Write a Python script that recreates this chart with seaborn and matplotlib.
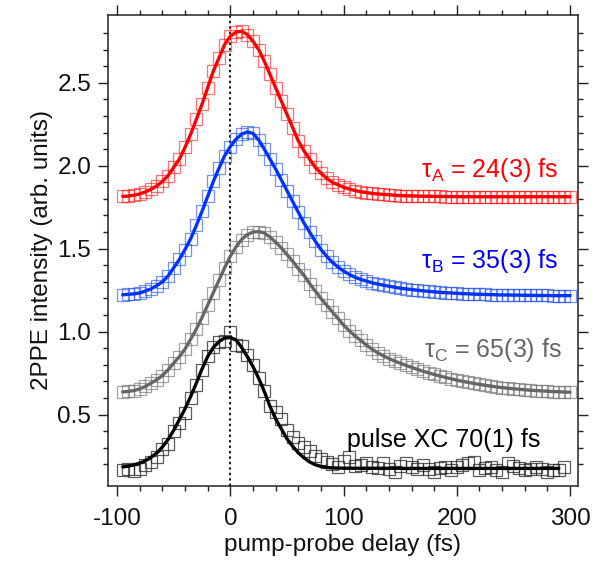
import numpy as np
import pandas as pd
import matplotlib
matplotlib.use("Agg")
import matplotlib.pyplot as plt
import seaborn as sns
from matplotlib.ticker import MultipleLocator, FixedLocator, FormatStrFormatter

# ---------------- data ----------------
delay_A = np.arange(-95, 301, 5)      # red / blue / gray series
red_A = [1.815, 1.817, 1.822, 1.830, 1.842, 1.858, 1.878, 1.905, 1.940, 1.990,
         2.040, 2.110, 2.190, 2.280, 2.370, 2.470, 2.570, 2.650, 2.730, 2.780,
         2.805, 2.810, 2.790, 2.750, 2.700, 2.630, 2.550, 2.470, 2.390, 2.310,
         2.230, 2.150, 2.090, 2.040, 1.990, 1.955, 1.925, 1.900, 1.885, 1.870,
         1.860, 1.850, 1.843, 1.838, 1.833, 1.830, 1.827, 1.825, 1.822, 1.820,
         1.819, 1.818, 1.817, 1.816, 1.816, 1.815, 1.815, 1.814, 1.814, 1.814,
         1.813, 1.813, 1.813, 1.813, 1.813, 1.813, 1.813, 1.813, 1.813, 1.813,
         1.813, 1.813, 1.813, 1.813, 1.813, 1.813, 1.813, 1.813, 1.813, 1.813]
blue_B = [1.222, 1.225, 1.228, 1.233, 1.245, 1.258, 1.277, 1.300, 1.335, 1.385,
          1.435, 1.495, 1.560, 1.640, 1.725, 1.815, 1.905, 1.985, 2.060, 2.115,
          2.160, 2.190, 2.203, 2.195, 2.155, 2.100, 2.040, 1.980, 1.915, 1.850,
          1.785, 1.720, 1.655, 1.600, 1.545, 1.495, 1.455, 1.418, 1.390, 1.365,
          1.345, 1.328, 1.315, 1.305, 1.295, 1.287, 1.280, 1.274, 1.268, 1.262,
          1.258, 1.254, 1.250, 1.246, 1.243, 1.240, 1.237, 1.235, 1.233, 1.231,
          1.229, 1.228, 1.226, 1.225, 1.224, 1.223, 1.222, 1.221, 1.221, 1.220,
          1.220, 1.219, 1.219, 1.218, 1.218, 1.218, 1.217, 1.217, 1.217, 1.217]
gray_C = [0.637, 0.640, 0.645, 0.655, 0.670, 0.690, 0.710, 0.735, 0.770, 0.810,
          0.850, 0.895, 0.955, 1.015, 1.085, 1.160, 1.235, 1.310, 1.385, 1.455,
          1.510, 1.555, 1.585, 1.600, 1.603, 1.595, 1.570, 1.540, 1.505, 1.465,
          1.425, 1.380, 1.340, 1.290, 1.245, 1.200, 1.160, 1.120, 1.080, 1.040,
          1.005, 0.975, 0.948, 0.920, 0.895, 0.873, 0.855, 0.838, 0.823, 0.810,
          0.797, 0.785, 0.773, 0.762, 0.752, 0.742, 0.733, 0.724, 0.716, 0.708,
          0.701, 0.694, 0.688, 0.682, 0.677, 0.672, 0.667, 0.663, 0.659, 0.656,
          0.653, 0.650, 0.647, 0.645, 0.643, 0.641, 0.639, 0.638, 0.636, 0.635]

delay_xc = np.arange(-95, 296, 5)     # pulse cross-correlation data
xc_data = [0.165, 0.172, 0.158, 0.175, 0.195, 0.217, 0.247, 0.295, 0.325, 0.400,
           0.450, 0.510, 0.600, 0.680, 0.770, 0.855, 0.910, 0.940, 0.945, 1.000,
           0.920, 0.915, 0.860, 0.800, 0.720, 0.640, 0.555, 0.515, 0.475, 0.410,
           0.365, 0.330, 0.305, 0.280, 0.250, 0.230, 0.215, 0.205, 0.187, 0.220,
           0.245, 0.190, 0.195, 0.207, 0.185, 0.177, 0.207, 0.175, 0.157, 0.190,
           0.207, 0.187, 0.170, 0.197, 0.175, 0.157, 0.180, 0.187, 0.167, 0.185,
           0.197, 0.210, 0.215, 0.167, 0.180, 0.187, 0.165, 0.157, 0.207, 0.190,
           0.177, 0.167, 0.175, 0.187, 0.170, 0.157, 0.165, 0.167, 0.187]

delay_fit = np.arange(-95, 291, 5)    # pulse cross-correlation fit
xc_fit = [0.185, 0.190, 0.198, 0.207, 0.222, 0.243, 0.268, 0.305, 0.350, 0.405,
          0.470, 0.535, 0.610, 0.690, 0.775, 0.850, 0.905, 0.940, 0.962, 0.965,
          0.950, 0.905, 0.850, 0.790, 0.720, 0.640, 0.550, 0.475, 0.415, 0.355,
          0.310, 0.270, 0.240, 0.215, 0.198, 0.188, 0.182, 0.179, 0.178, 0.177,
          0.177, 0.177, 0.177, 0.177, 0.177, 0.177, 0.177, 0.177, 0.177, 0.177,
          0.176, 0.176, 0.176, 0.176, 0.176, 0.176, 0.176, 0.176, 0.176, 0.176,
          0.176, 0.176, 0.176, 0.176, 0.176, 0.176, 0.176, 0.176, 0.176, 0.176,
          0.176, 0.176, 0.176, 0.176, 0.176, 0.176, 0.176, 0.176]

labels = [r"τ$_\mathregular{A}$ = 24(3) fs", r"τ$_\mathregular{B}$ = 35(3) fs",
          r"τ$_\mathregular{C}$ = 65(3) fs", "pulse XC 70(1) fs"]
x_ticks = [-100, 0, 100, 200, 300]
y_ticks = [0.5, 1.0, 1.5, 2.0, 2.5]

# ---------------- style ----------------
sns.set_style("ticks")
plt.rcParams["font.family"] = ["Liberation Sans", "DejaVu Sans"]
plt.rcParams["mathtext.fontset"] = "custom"
plt.rcParams["mathtext.rm"] = "Liberation Sans"
plt.rcParams["mathtext.it"] = "Liberation Sans:italic"
plt.rcParams["axes.unicode_minus"] = False

fig = plt.figure(figsize=(6.07, 5.62), dpi=100)
ax = fig.add_axes([108 / 607, 1 - 486 / 562, (578 - 108) / 607, (486 - 15) / 562])

series = [
    (delay_A, red_A, delay_A, red_A, "#ff0000", (1.0, 0.0, 0.0, 0.55), "#ff0000"),
    (delay_A, blue_B, delay_A, blue_B, "#0033ff", (0.1, 0.3, 0.9, 0.6), "#0000ff"),
    (delay_A, gray_C, delay_A, gray_C, "#666666", (0.45, 0.45, 0.45, 0.65), "#666666"),
    (delay_xc, xc_data, delay_fit, xc_fit, "#000000", (0.15, 0.15, 0.15, 0.75), "#000000"),
]

for xd, yd, xf, yf, lc, mc, tc in series:
    sns.lineplot(x=xd, y=yd, ax=ax, marker="s", linestyle="none",
                 markersize=8.6, markerfacecolor="none", markeredgecolor=mc,
                 markeredgewidth=0.9, color=lc, errorbar=None)
for xd, yd, xf, yf, lc, mc, tc in series:
    sns.lineplot(x=xf, y=yf, ax=ax, color=lc, linewidth=2.4, errorbar=None)

ax.axvline(0, color="#111111", linestyle=(0, (1.2, 1.6)), linewidth=1.4, zorder=1)

text_pos = [(289.5, 1.977), (289.5, 1.426), (293, 0.89), (273.5, 0.345)]
for (tx, ty), lab, s in zip(text_pos, labels, series):
    ax.text(tx, ty, lab, color=s[6], fontsize=18, ha="right", va="center")

ax.set_xlim(-108, 307)
ax.set_ylim(0.070, 2.908)
ax.set_xticks(x_ticks)
ax.xaxis.set_minor_locator(MultipleLocator(20))
ax.set_yticks(y_ticks)
ax.yaxis.set_major_formatter(FormatStrFormatter("%.1f"))
ax.yaxis.set_minor_locator(FixedLocator(np.round(np.arange(0.2, 2.85, 0.1), 1)))

for sp in ax.spines.values():
    sp.set_visible(True)
    sp.set_linewidth(1.1)
    sp.set_color("#222222")

ax.tick_params(which="both", direction="out", top=True, right=True,
               labeltop=False, labelright=False, width=1.0, color="#222222",
               labelsize=17.5, labelcolor="#111111")
ax.tick_params(which="major", length=7)
ax.tick_params(which="minor", length=3.7)
ax.tick_params(axis="x", which="major", pad=9)
ax.tick_params(axis="y", which="major", pad=5)

ax.set_xlabel("pump-probe delay (fs)", fontsize=17.5, labelpad=3, color="#111111")
ax.set_ylabel("2PPE intensity (arb. units)", fontsize=17.5, labelpad=3, color="#111111")

fig.savefig("out.png", dpi=100)
